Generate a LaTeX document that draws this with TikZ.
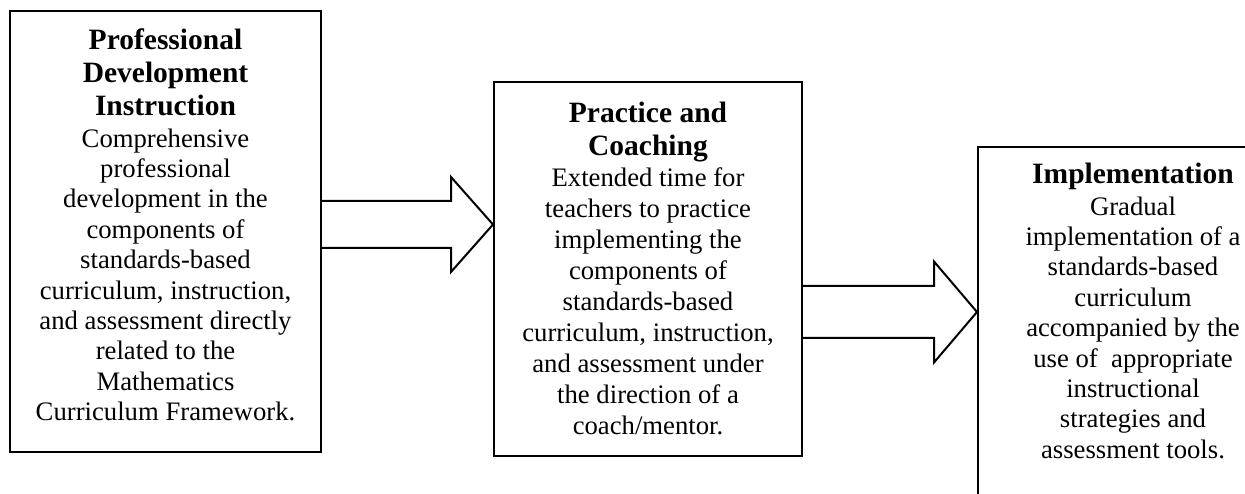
\documentclass[tikz,border=0pt]{standalone}
\usepackage{fontspec}
\setmainfont{Liberation Serif}
\tikzset{
  stagebox/.style={draw=black, line width=2pt, rectangle, inner sep=0pt},
  headtext/.style={anchor=north, align=center, inner sep=0pt,
    font=\fontsize{29.5}{33}\selectfont\bfseries},
  bodytext/.style={anchor=north, align=center, inner sep=0pt,
    font=\fontsize{26.7}{30.4}\selectfont},
  blockarrow/.style={draw=black, line width=2pt, line join=miter, fill=white}
}
\begin{document}
\begin{tikzpicture}[x=1pt, y=-1pt]
  \useasboundingbox (0,0) rectangle (1245,494);
  \clip (0,0) rectangle (1245,494);

  % the three stages
  \node[stagebox, minimum width=311pt, minimum height=441pt] (b1) at (165.5,231.5) {};
  \node[stagebox, minimum width=308pt, minimum height=374pt] (b2) at (648,269) {};
  \node[stagebox, minimum width=310pt, minimum height=420pt] (b3) at (1133,357) {};

  % stage 1
  \node[headtext] (t1) at (165.5,26) {\strut Professional\\Development\\Instruction};
  \node[bodytext] (d1) at (165.5,125.6) {\strut Comprehensive\\professional\\development in the\\components of\\standards-based\\curriculum, instruction,\\and assessment directly\\related to the\\Mathematics\\Curriculum Framework.};

  % stage 2
  \node[headtext] (t2) at (648,99) {\strut Practice and\\Coaching};
  \node[bodytext, font=\fontsize{26.7}{31}\selectfont] (d2) at (648,164.3) {\strut Extended time for\\teachers to practice\\implementing the\\components of\\standards-based\\curriculum, instruction,\\and assessment under\\the direction of a\\coach/mentor.};

  % stage 3
  \node[headtext] (t3) at (1133,160) {\strut Implementation};
  \node[bodytext] (d3) at (1133,193.6) {\strut Gradual\\implementation of a\\standards-based\\curriculum\\accompanied by the\\use of\ \ appropriate\\instructional\\strategies and\\assessment tools.};

  % block arrows between the stages
  \coordinate (a1s) at (b1.east |- 0,224.5);
  \coordinate (a1e) at (b2.west |- 0,224.5);
  \draw[blockarrow] ([yshift=-23.5pt]a1s) -- ([xshift=-42pt,yshift=-23.5pt]a1e)
    -- ([xshift=-42pt,yshift=-47.5pt]a1e) -- (a1e)
    -- ([xshift=-42pt,yshift=47.5pt]a1e) -- ([xshift=-42pt,yshift=23.5pt]a1e)
    -- ([yshift=23.5pt]a1s);

  \coordinate (a2s) at (b2.east |- 0,312);
  \coordinate (a2e) at (b3.west |- 0,312);
  \draw[blockarrow] ([yshift=-26pt]a2s) -- ([xshift=-43pt,yshift=-26pt]a2e)
    -- ([xshift=-43pt,yshift=-50.5pt]a2e) -- (a2e)
    -- ([xshift=-43pt,yshift=50.5pt]a2e) -- ([xshift=-43pt,yshift=26pt]a2e)
    -- ([yshift=26pt]a2s);
\end{tikzpicture}
\end{document}
